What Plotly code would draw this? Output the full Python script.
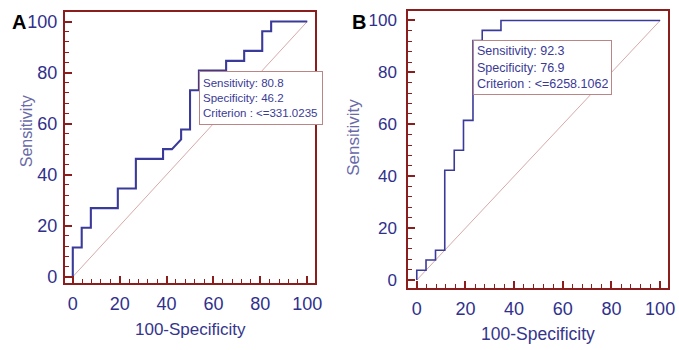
import plotly.graph_objects as go

# ---- data ----
# Panel A ROC curve: 100-Specificity (x) vs Sensitivity (y)
roc_a_x = [0, 0, 3.8, 3.8, 7.7, 7.7, 19.2, 19.2, 26.9, 26.9, 38.5, 38.5, 42.3, 46.2, 46.2,
           50.0, 50.0, 53.8, 53.8, 65.4, 65.4, 73.1, 73.1, 80.8, 80.8, 84.6, 84.6, 100]
roc_a_y = [0, 11.5, 11.5, 19.2, 19.2, 26.9, 26.9, 34.6, 34.6, 46.2, 46.2, 50.0, 50.0, 53.8, 57.7,
           57.7, 73.1, 73.1, 80.8, 80.8, 84.6, 84.6, 88.5, 88.5, 96.2, 96.2, 100, 100]
# Panel B ROC curve
roc_b_x = [0, 0, 3.8, 3.8, 7.7, 7.7, 11.5, 11.5, 15.4, 15.4, 19.2, 19.2, 23.1, 23.1, 26.9, 26.9,
           34.6, 34.6, 100]
roc_b_y = [0, 3.8, 3.8, 7.7, 7.7, 11.5, 11.5, 42.3, 42.3, 50.0, 50.0, 61.5, 61.5, 92.3, 92.3, 96.2,
           96.2, 100, 100]
diag = [0, 100]

# optimal cut points (100-Specificity, Sensitivity) and texts
cut_a = (100 - 46.2, 80.8)
cut_b = (100 - 76.9, 92.3)
text_a = ["Sensitivity: 80.8", "Specificity: 46.2", "Criterion : <=331.0235"]
text_b = ["Sensitivity: 92.3", "Specificity: 76.9", "Criterion : <=6258.1062"]

tick_vals = [0, 20, 40, 60, 80, 100]
tick_text = ["0", "20", "40", "60", "80", "100"]
panel_labels = ["A", "B"]
x_title = "100-Specificity"
y_title = "Sensitivity"

# ---- styling ----
W, H = 679, 350
FONT = "Liberation Sans, Arial, sans-serif"
FRAME = "#8b1d1d"
CURVE = "#3a3a9a"
DIAG = "#d7a9a9"
TICKTXT = "#30308c"
YTITLE = "#6a6aa8"
XTITLE = "#35358c"
BOXLINE = "#b98585"

fig = go.Figure()

fig.add_trace(go.Scatter(x=diag, y=diag, mode="lines", line=dict(color=DIAG, width=1),
                         xaxis="x", yaxis="y", hoverinfo="skip"))
fig.add_trace(go.Scatter(x=roc_a_x, y=roc_a_y, mode="lines", line=dict(color=CURVE, width=2.1),
                         xaxis="x", yaxis="y"))
fig.add_trace(go.Scatter(x=diag, y=diag, mode="lines", line=dict(color=DIAG, width=1),
                         xaxis="x2", yaxis="y2", hoverinfo="skip"))
fig.add_trace(go.Scatter(x=roc_b_x, y=roc_b_y, mode="lines", line=dict(color=CURVE, width=1.6),
                         xaxis="x2", yaxis="y2"))


def axis(domain, rng, anchor, fsize, standoff):
    return dict(
        domain=domain, range=rng, anchor=anchor,
        showgrid=False, zeroline=False,
        showline=True, linecolor=FRAME, linewidth=2, mirror=True,
        ticks="inside", ticklen=7, tickwidth=1.5, tickcolor=FRAME,
        tickmode="array", tickvals=tick_vals, ticktext=tick_text,
        tickfont=dict(family=FONT, size=fsize, color=TICKTXT),
        ticklabelstandoff=standoff,
        minor=dict(dtick=4, tick0=0, ticks="inside", ticklen=4, tickwidth=1.2,
                   tickcolor=FRAME, showgrid=False),
        fixedrange=True,
    )


def px_x(p):
    return p / W


def px_y(p):
    return 1 - p / H


fig.update_layout(
    width=W, height=H,
    margin=dict(l=0, r=0, t=0, b=0),
    paper_bgcolor="white", plot_bgcolor="white",
    showlegend=False,
    xaxis=axis([px_x(65.5), px_x(318.5)], [-3.4, 103.4], "y", 18, 3),
    yaxis=axis([px_y(286.7), px_y(11.7)], [-2.6, 103.9], "x", 18, 2),
    xaxis2=axis([px_x(412.5), px_x(674.5)], [-3.5, 103.05], "y2", 18, 3),
    yaxis2=axis([px_y(291.7), px_y(11.0)], [-3.2, 103.7], "x2", 17, 6),
)

annotations = []
# criterion boxes anchored at the cut points
for (cx, cy), lines, xr, yr, fs, w, h in [
    (cut_a, text_a, "x", "y", 11.5, 116, 46),
    (cut_b, text_b, "x2", "y2", 12.5, 131, 47),
]:
    annotations.append(dict(
        x=cx, y=cy, xref=xr, yref=yr, xanchor="left", yanchor="top",
        text="<br>".join(lines), showarrow=False, align="left", valign="middle",
        width=w, height=h, bgcolor="white", bordercolor=BOXLINE, borderwidth=1, borderpad=3,
        font=dict(family=FONT, size=fs, color="#3a3a96"),
    ))

# panel letters
for lab, px, py in [(panel_labels[0], 19.5, 22), (panel_labels[1], 362.5, 22)]:
    annotations.append(dict(x=px_x(px), y=px_y(py), xref="paper", yref="paper",
                            text=f"<b>{lab}</b>", showarrow=False,
                            xanchor="center", yanchor="middle",
                            font=dict(family=FONT, size=20, color="black")))

# axis titles
for px, py, fs in [(27, 133, 16), (357, 139, 17)]:
    annotations.append(dict(x=px_x(px), y=px_y(py), xref="paper", yref="paper",
                            text=y_title, textangle=-90, showarrow=False,
                            xanchor="center", yanchor="middle",
                            font=dict(family=FONT, size=fs, color=YTITLE)))
for px, py, fs in [(192.5, 333, 17), (544, 338, 17.5)]:
    annotations.append(dict(x=px_x(px), y=px_y(py), xref="paper", yref="paper",
                            text=x_title, showarrow=False,
                            xanchor="center", yanchor="middle",
                            font=dict(family=FONT, size=fs, color=XTITLE)))

fig.update_layout(annotations=annotations)

# remove the browser's default 8px body margin so the 679x350 figure fills the window
fig.write_html("out.html", config={"displayModeBar": False},
               post_script="document.body.style.margin='0px';")
